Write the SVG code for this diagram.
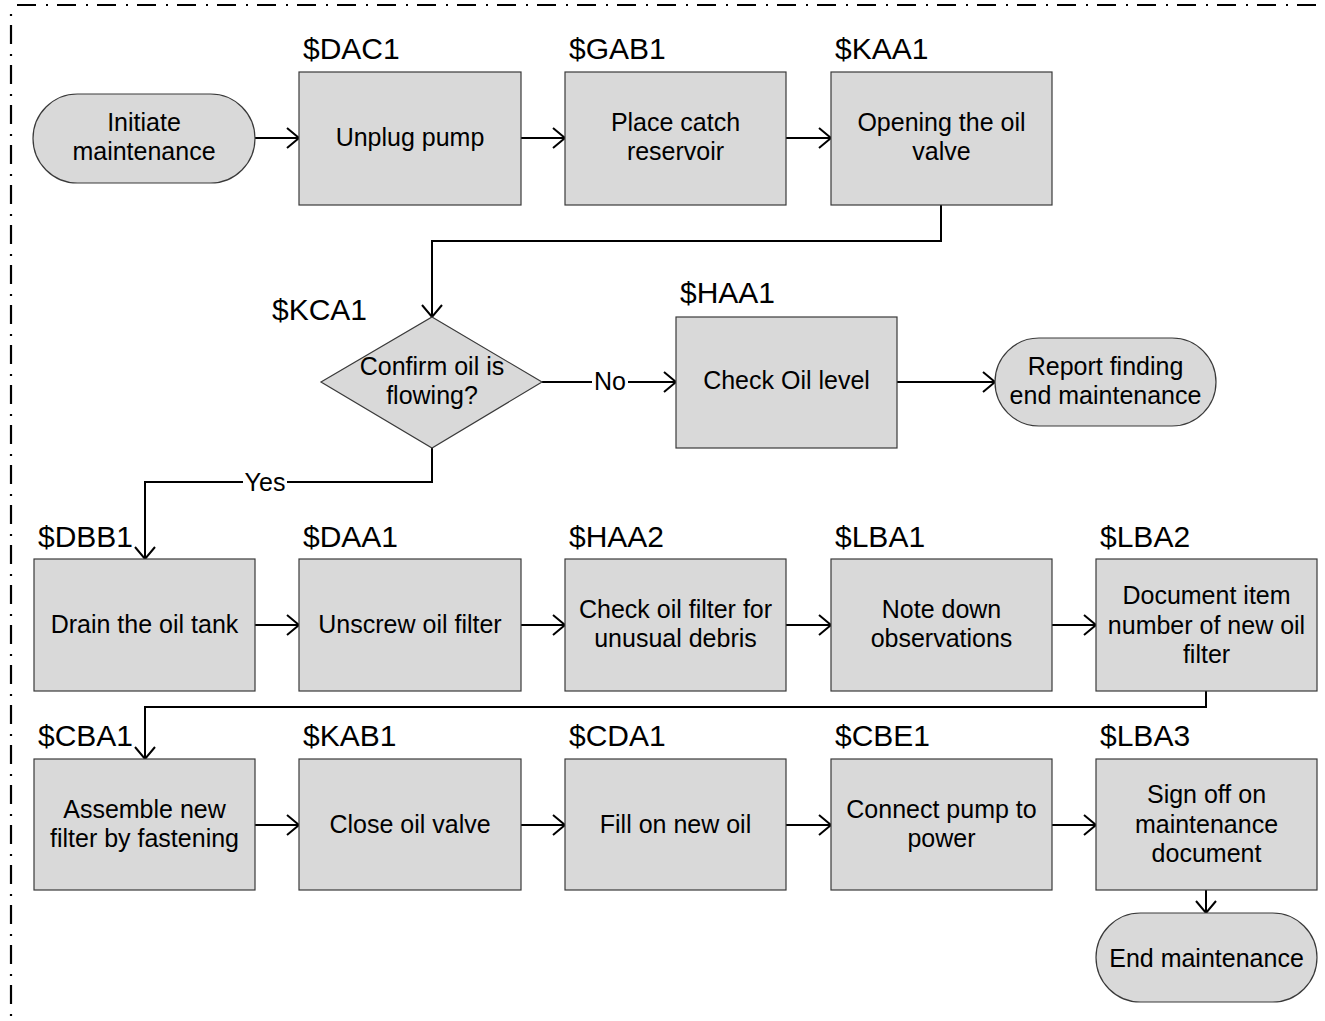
<svg xmlns="http://www.w3.org/2000/svg" width="1325" height="1021" viewBox="0 0 1325 1021">
  <style>
    .box { fill: #d9d9d9; stroke: #3a3a3a; stroke-width: 1.2; }
    .txt { font-family: "Liberation Sans", Arial, sans-serif; font-size: 25px; fill: #000; text-anchor: middle; }
    .tag { font-family: "Liberation Sans", Arial, sans-serif; font-size: 30px; fill: #000; }
    .wire { fill: none; stroke: #000; stroke-width: 2; marker-end: url(#arrow); }
    .lbl { font-family: "Liberation Sans", Arial, sans-serif; font-size: 25px; fill: #000; text-anchor: middle; }
    .frame { fill: none; stroke: #000; stroke-width: 2.2; stroke-dasharray: 19 10 2 9; }
  </style>
  <defs>
    <marker id="arrow" markerUnits="userSpaceOnUse" markerWidth="20" markerHeight="24" refX="14" refY="11" orient="auto" overflow="visible">
      <path d="M2,1 L14,11 L2,21" fill="none" stroke="#000" stroke-width="2"/>
    </marker>
  </defs>

  <!-- dash-dot boundary frame (top and left edges) -->
  <path class="frame" d="M11,5 H1325" stroke-dashoffset="34"/>
  <path class="frame" d="M11,5 V1021" stroke-dashoffset="20"/>

  <g id="connectors">
    <path class="wire" d="M255,138 H299"/>
    <path class="wire" d="M521,138 H565"/>
    <path class="wire" d="M786,138 H831"/>
    <path class="wire" d="M941,205 V241 H432 V317"/>
    <path class="wire" d="M542,382 H676"/>
    <path class="wire" d="M897,382 H995"/>
    <path class="wire" d="M432,448 V482 H145 V559"/>
    <path class="wire" d="M255,625 H299"/>
    <path class="wire" d="M521,625 H565"/>
    <path class="wire" d="M786,625 H831"/>
    <path class="wire" d="M1052,625 H1096"/>
    <path class="wire" d="M1206,691 V707 H145 V759"/>
    <path class="wire" d="M255,825 H299"/>
    <path class="wire" d="M521,825 H565"/>
    <path class="wire" d="M786,825 H831"/>
    <path class="wire" d="M1052,825 H1096"/>
    <path class="wire" d="M1206,890 V913"/>
    <rect x="592" y="370" width="36" height="24" fill="#fff"/>
    <text class="lbl" x="610" y="390">No</text>
    <rect x="243" y="470" width="44" height="24" fill="#fff"/>
    <text class="lbl" x="265" y="491">Yes</text>
  </g>

  <g id="start">
    <rect class="box" x="33" y="94" width="222" height="89" rx="44.5"/>
    <text class="txt" x="144" y="131">Initiate</text>
    <text class="txt" x="144" y="160">maintenance</text>
  </g>

  <g id="DAC1">
    <text class="tag" x="303" y="59">$DAC1</text>
    <rect class="box" x="299" y="72" width="222" height="133"/>
    <text class="txt" x="410" y="146">Unplug pump</text>
  </g>

  <g id="GAB1">
    <text class="tag" x="569" y="59">$GAB1</text>
    <rect class="box" x="565" y="72" width="221" height="133"/>
    <text class="txt" x="675.5" y="131">Place catch</text>
    <text class="txt" x="675.5" y="160">reservoir</text>
  </g>

  <g id="KAA1">
    <text class="tag" x="835" y="59">$KAA1</text>
    <rect class="box" x="831" y="72" width="221" height="133"/>
    <text class="txt" x="941.5" y="131">Opening the oil</text>
    <text class="txt" x="941.5" y="160">valve</text>
  </g>

  <g id="KCA1">
    <text class="tag" x="272" y="320">$KCA1</text>
    <polygon class="box" points="432,317 542,382 432,448 321,382"/>
    <text class="txt" x="432" y="375">Confirm oil is</text>
    <text class="txt" x="432" y="404">flowing?</text>
  </g>

  <g id="HAA1">
    <text class="tag" x="680" y="303">$HAA1</text>
    <rect class="box" x="676" y="317" width="221" height="131"/>
    <text class="txt" x="786.5" y="389">Check Oil level</text>
  </g>

  <g id="report">
    <rect class="box" x="995" y="338" width="221" height="88" rx="44"/>
    <text class="txt" x="1105.5" y="375">Report finding</text>
    <text class="txt" x="1105.5" y="404">end maintenance</text>
  </g>

  <g id="DBB1">
    <text class="tag" x="38" y="547">$DBB1</text>
    <rect class="box" x="34" y="559" width="221" height="132"/>
    <text class="txt" x="144.5" y="633">Drain the oil tank</text>
  </g>

  <g id="DAA1">
    <text class="tag" x="303" y="547">$DAA1</text>
    <rect class="box" x="299" y="559" width="222" height="132"/>
    <text class="txt" x="410" y="633">Unscrew oil filter</text>
  </g>

  <g id="HAA2">
    <text class="tag" x="569" y="547">$HAA2</text>
    <rect class="box" x="565" y="559" width="221" height="132"/>
    <text class="txt" x="675.5" y="618">Check oil filter for</text>
    <text class="txt" x="675.5" y="647">unusual debris</text>
  </g>

  <g id="LBA1">
    <text class="tag" x="835" y="547">$LBA1</text>
    <rect class="box" x="831" y="559" width="221" height="132"/>
    <text class="txt" x="941.5" y="618">Note down</text>
    <text class="txt" x="941.5" y="647">observations</text>
  </g>

  <g id="LBA2">
    <text class="tag" x="1100" y="547">$LBA2</text>
    <rect class="box" x="1096" y="559" width="221" height="132"/>
    <text class="txt" x="1206.5" y="604">Document item</text>
    <text class="txt" x="1206.5" y="634">number of new oil</text>
    <text class="txt" x="1206.5" y="663">filter</text>
  </g>

  <g id="CBA1">
    <text class="tag" x="38" y="746">$CBA1</text>
    <rect class="box" x="34" y="759" width="221" height="131"/>
    <text class="txt" x="144.5" y="818">Assemble new</text>
    <text class="txt" x="144.5" y="847">filter by fastening</text>
  </g>

  <g id="KAB1">
    <text class="tag" x="303" y="746">$KAB1</text>
    <rect class="box" x="299" y="759" width="222" height="131"/>
    <text class="txt" x="410" y="833">Close oil valve</text>
  </g>

  <g id="CDA1">
    <text class="tag" x="569" y="746">$CDA1</text>
    <rect class="box" x="565" y="759" width="221" height="131"/>
    <text class="txt" x="675.5" y="833">Fill on new oil</text>
  </g>

  <g id="CBE1">
    <text class="tag" x="835" y="746">$CBE1</text>
    <rect class="box" x="831" y="759" width="221" height="131"/>
    <text class="txt" x="941.5" y="818">Connect pump to</text>
    <text class="txt" x="941.5" y="847">power</text>
  </g>

  <g id="LBA3">
    <text class="tag" x="1100" y="746">$LBA3</text>
    <rect class="box" x="1096" y="759" width="221" height="131"/>
    <text class="txt" x="1206.5" y="803">Sign off on</text>
    <text class="txt" x="1206.5" y="833">maintenance</text>
    <text class="txt" x="1206.5" y="862">document</text>
  </g>

  <g id="end">
    <rect class="box" x="1096" y="913" width="221" height="89" rx="44.5"/>
    <text class="txt" x="1206.5" y="967">End maintenance</text>
  </g>
</svg>
